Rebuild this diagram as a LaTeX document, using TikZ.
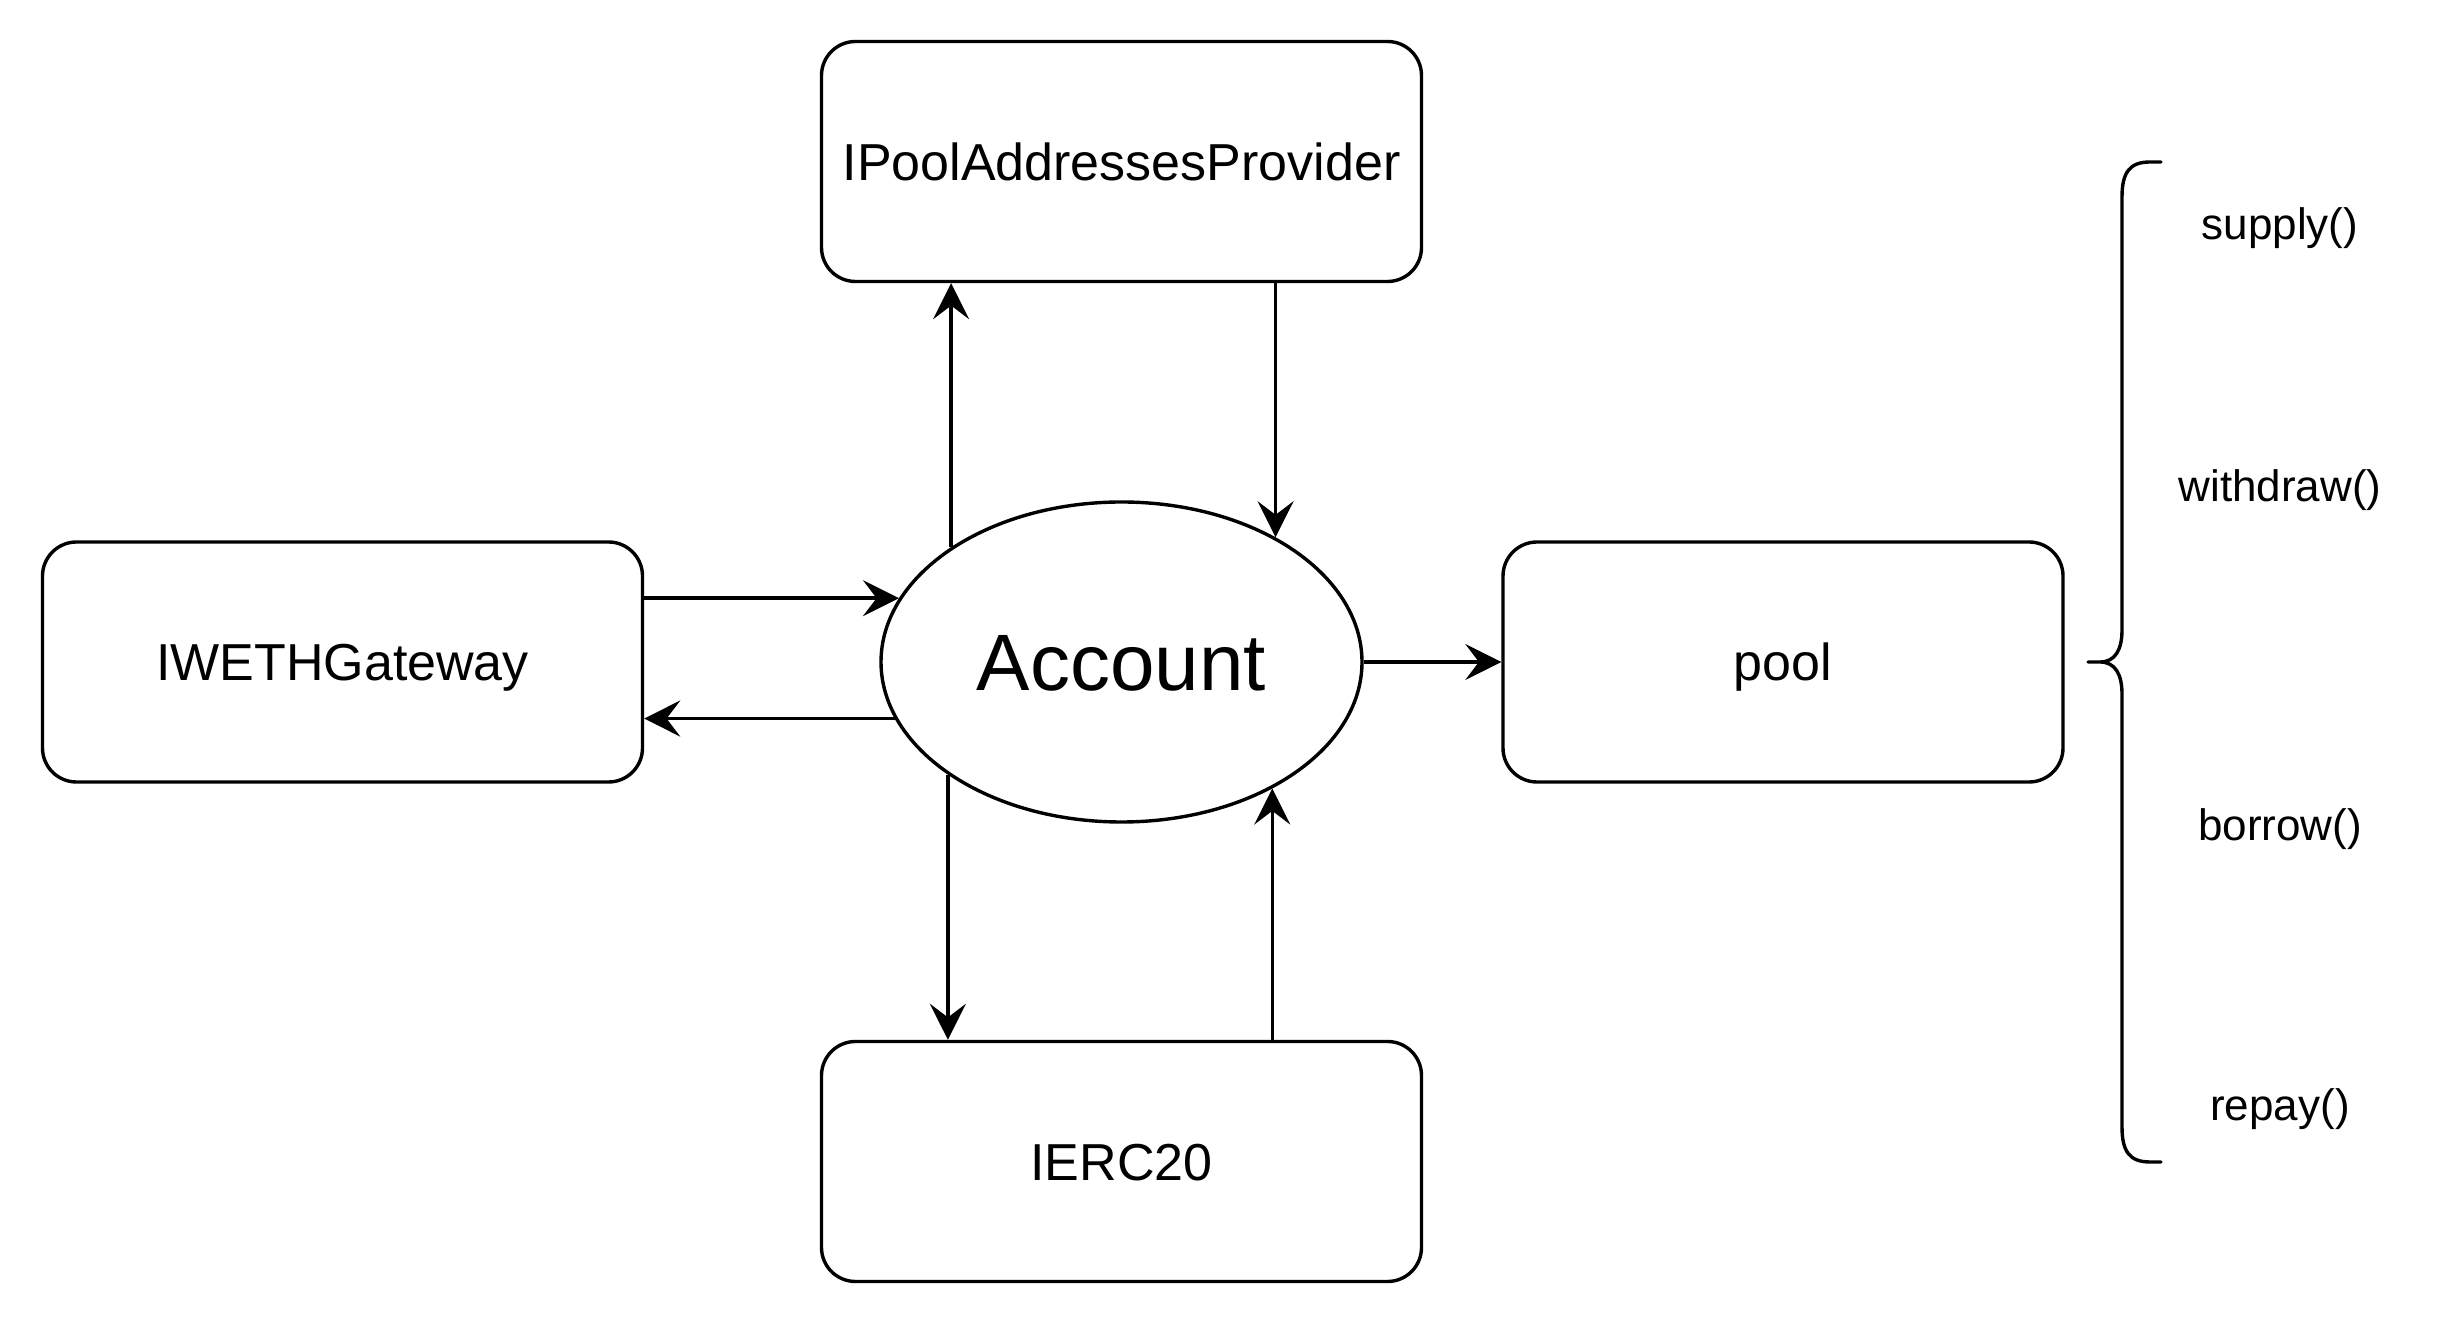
\documentclass[tikz,border=0pt]{standalone}
\usepackage{fontspec}
\setmainfont{Liberation Sans}
\usetikzlibrary{arrows.meta,shapes.geometric}
\begin{document}
\begin{tikzpicture}[x=0.25pt,y=-0.25pt,
  lw/.style={line width=0.85pt},
  box/.style={draw,lw,rounded corners=8.5pt,minimum width=150pt,minimum height=60pt,inner sep=0pt,
    font=\fontsize{13}{15}\selectfont,text height=9.3pt,text depth=0pt},
  oval/.style={draw,lw,ellipse,minimum width=120.25pt,minimum height=80pt,inner sep=0pt,
    font=\fontsize{20}{24}\selectfont,text height=14.3pt,text depth=0pt},
  lbl/.style={inner sep=0pt,font=\fontsize{11}{13}\selectfont,text height=7.9pt,text depth=0pt},
  arr/.style={lw,-{Stealth[length=9pt,width=9pt,inset=3.4pt]}},
  brace/.style={lw,line cap=round}]
\useasboundingbox (0,0) rectangle (2444,1324);
\node[box] (top) at (1121.5,161.5) {IPoolAddressesProvider};
\node[box] (weth) at (342.5,662) {IWETHGateway};
\node[box] (erc) at (1121.5,1161.5) {IERC20};
\node[box,minimum width=140pt] (pool) at (1783,662) {pool};
\node[oval] (acc) at (1121.5,662) {Account};
% connectors
\draw[arr] (acc.146.2) -- (acc.146.2 |- top.south);
\draw[arr] (acc.39.3 |- top.south) -- (acc.39.3);
\draw[arr] (acc.164.8 -| weth.east) -- (acc.164.8);
\draw[arr] (acc.194.8) -- (acc.194.8 -| weth.east);
\draw[arr] (acc.213.8) -- (acc.213.8 |- erc.north);
\draw[arr] (acc.320.7 |- erc.north) -- (acc.320.7);
\draw[arr] (acc.east) -- (pool.west);
% brace
\draw[brace] (2161,162) -- (2150,162) .. controls (2130,162) and (2122,172) .. (2122,197)
  -- (2122,630) .. controls (2122,650) and (2115,662) .. (2100,662) -- (2088,662)
  (2100,662) .. controls (2115,662) and (2122,674) .. (2122,694)
  -- (2122,1127) .. controls (2122,1152) and (2130,1162) .. (2150,1162) -- (2161,1162);
% labels
\node[lbl] (l1) at (2280,224) {supply()};
\node[lbl] (l2) at (2280,486) {withdraw()};
\node[lbl] (l3) at (2280,825) {borrow()};
\node[lbl] (l4) at (2280,1105) {repay()};
\end{tikzpicture}
\end{document}
